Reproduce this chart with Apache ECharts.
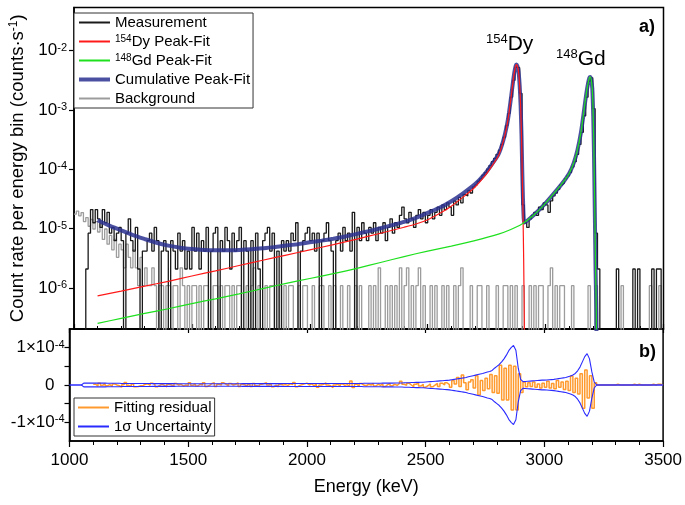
<!DOCTYPE html>
<html><head><meta charset="utf-8">
<script src="https://cdn.jsdelivr.net/npm/echarts@6/dist/echarts.min.js"></script>
<style>html,body{margin:0;padding:0;background:#fff}#c{width:685px;height:505px}</style>
</head><body><div id="c"></div>
<script>
// ---------- data ----------
const binStart = 1000, binWidth = 10;          // keV
const measQuantum = 2.1e-6;                     // counts·s^-1 for one count in a bin (measurement)
const bgQuantum = 1.1e-6;                       // counts·s^-1 for one count in a bin (background)
const zeroFloor = 1e-9;                         // empty bins drawn below the log axis
const xTicks = [1000, 1500, 2000, 2500, 3000, 3500];

// measurement, counts per 10 keV bin (1000 ... 3490 keV)
const measCounts = [
  0,0,0,0,0,1,4,10,6,10,
  7,5,10,6,9,4,5,3,4,5,
  3,0,4,7,3,2,5,1,0,2,
  2,3,4,2,5,3,0,2,3,2,
  0,3,2,1,4,2,3,1,2,1,
  5,2,4,1,3,2,5,0,2,4,
  5,0,3,2,5,3,1,4,2,3,
  5,0,3,2,0,3,0,4,1,0,
  3,4,5,2,4,0,2,0,3,2,
  3,2,4,3,6,0,2,3,4,5,
  3,4,2,4,0,3,4,6,3,2,
  0,3,4,2,5,3,4,2,9,0,
  5,3,6,4,3,5,4,6,3,5,
  4,6,3,5,7,4,6,5,8,11,
  7,6,9,7,5,8,10,7,9,6,
  8,10,7,9,11,8,12,10,13,11,
  8,14,12,16,13,18,17,21,19,24,
  26,30,33,38,42,48,55,64,73,85,
  100,125,165,260,420,780,1500,2500,2450,900,
  12,6,5,7,8,9,8,11,10,13,
  12,9,14,17,19,22,26,28,33,37,
  42,52,64,85,125,200,380,780,1450,1650,
  500,4,1,0,0,0,0,0,0,0,
  1,0,0,0,0,0,0,1,0,1,
  0,0,0,0,0,1,0,1,1,0
];
// background, counts per 10 keV bin (1000 ... 3490 keV)
const bgCounts = [
  16,18,15,17,12,14,10,13,9,12,
  8,11,6,9,5,7,4,6,3,5,
  4,2,5,3,2,4,2,1,3,1,
  2,1,1,2,1,0,1,1,0,1,
  1,0,1,1,0,2,1,0,1,0,
  1,1,0,1,0,1,1,0,0,1,
  1,0,1,0,1,1,0,1,0,1,
  1,0,0,1,0,1,2,0,1,0,
  0,1,0,1,1,0,0,1,0,1,
  0,1,1,0,0,1,0,1,1,0,
  0,1,0,0,1,1,0,0,1,0,
  1,0,0,1,0,0,1,0,0,1,
  0,1,0,0,0,1,0,1,0,2,
  0,0,1,0,1,0,1,0,2,0,
  1,2,0,1,0,1,2,0,1,0,
  0,1,0,1,0,0,1,0,1,0,
  0,1,0,1,2,0,0,0,1,0,
  0,1,1,0,0,1,0,0,0,1,
  0,0,1,1,0,1,0,1,0,0,
  1,0,0,1,0,1,0,1,1,0,
  0,1,2,0,1,0,1,1,0,0,
  0,1,0,0,0,0,0,0,1,0,
  0,1,0,0,0,0,0,0,0,0,
  0,0,1,0,0,0,0,0,0,0,
  0,0,0,0,1,0,0,0,1,0
];
// fitting residual, 1e-6 counts·s^-1 per bin (null = not fitted)
const residual = [
  null,null,null,null,null,null,null,null,null,null,
  2,-3,5,-1,4,-2,1,-4,3,0,
  -2,-6,1,7,-1,-3,3,-5,-4,-2,
  -1,2,3,-1,5,1,-5,-1,2,-1,
  -5,2,0,-3,4,0,2,-3,0,-2,
  6,-1,3,-3,2,0,6,-4,-1,4,
  6,-4,2,0,6,2,-2,4,0,2,
  6,-4,2,0,-4,2,-4,4,-2,-4,
  2,4,6,0,4,-5,0,-5,2,0,
  1,-1,3,1,7,-5,-1,1,3,5,
  0,3,-2,2,-6,0,2,6,0,-2,
  -7,0,2,-3,3,-1,1,-4,11,-7,
  2,-3,4,0,-2,2,0,4,-3,2,
  -1,3,-4,1,4,-2,2,-1,4,10,
  2,-1,5,0,-5,2,6,-3,2,-6,
  -2,3,-5,0,4,-4,5,0,6,1,
  -6,12,3,20,-4,27,6,-13,8,14,
  -8,25,-27,12,-15,18,-10,28,-20,25,
  -22,53,-40,45,-40,53,-67,50,-67,30,
  -20,8,-5,6,-4,8,-6,3,-8,5,
  -6,10,-8,4,-10,12,-6,8,-12,10,
  -15,24,-20,18,-24,30,-62,40,-35,25,
  -62,6,0,0,0,0,0,0,0,0,
  2,0,0,0,0,0,0,2,0,2,
  0,0,0,0,0,2,0,2,2,0
];
// 1 sigma uncertainty, 1e-6 counts·s^-1 per bin
const sigma = [
  0,0,0,0,0,0,5,5,5,5,
  5,5,5,5,5,5,4.5,4.5,4.5,4.5,
  4.5,4.5,4,4,4,4,4,4,4,4,
  4,4,4,4,4,3.8,3.8,3.8,3.8,3.8,
  3.6,3.6,3.6,3.6,3.6,3.5,3.5,3.5,3.5,3.5,
  3.5,3.5,3.5,3.5,3.5,3.5,3.5,3.5,3.5,3.5,
  3.5,3.5,3.5,3.5,3.5,3.5,3.5,3.5,3.5,3.5,
  3.5,3.5,3.5,3.6,3.6,3.6,3.6,3.6,3.6,3.6,
  3.7,3.7,3.7,3.7,3.7,3.8,3.8,3.8,3.8,3.8,
  3.9,3.9,3.9,3.9,3.9,4,4,4,4,4,
  4,4,4,4,4,4,4,4,4,4,
  4,4,4,4,4,4,4,4,4,4,
  4,4,4,4,4.5,4.5,4.5,4.5,4.5,4.5,
  4.5,4.5,5,5,5,5,5,5.5,5.5,5.5,
  5.5,6,6,6,6.5,6.5,7,7,7.5,7.5,
  8,8.5,9,9.5,10,10.5,11,11.5,12,12.5,
  13,14,15,16,17,18,19,20,22,23.5,
  25,26.5,28,29.5,31,33,35,36,39,45,
  50,55,62,70,80,92,100,106,93,45,
  15,9,9.5,10,10.5,11,11.5,12,12.5,13,
  13,13.5,14,14.5,15,16,17,18,19,20,
  22,24,27,31,38,48,62,76,84,70,
  35,8,0,0,0,0,0,0,0,0,
  0,0,0,0,0,0,0,0,0,0,
  0,0,0,0,0,0,0,0,0,0
];
// fitted curves [energy keV, counts·s^-1]
const dyFit = [
  [1100,7.4e-7],[1200,8.9e-7],[1300,1.08e-6],[1400,1.3e-6],[1500,1.6e-6],[1600,1.95e-6],
  [1700,2.4e-6],[1800,2.95e-6],[1900,3.6e-6],[2000,4.4e-6],[2100,5.4e-6],[2200,6.7e-6],
  [2300,8.4e-6],[2400,1.06e-5],[2450,1.2e-5],[2500,1.42e-5],[2550,1.8e-5],[2600,2.4e-5],
  [2650,3.4e-5],[2700,5.0e-5],[2740,7.5e-5],[2770,1.1e-4],[2800,1.7e-4],[2820,2.9e-4],
  [2835,5.2e-4],[2845,9.0e-4],[2855,1.8e-3],[2862,3.0e-3],[2868,4.4e-3],[2873,5.5e-3],
  [2876,5.8e-3],[2880,5.5e-3],[2885,4.5e-3],[2890,2.6e-3],[2894,1.2e-3],[2898,3.5e-4],
  [2901,8e-5],[2904,2e-5],[2907,3e-6],[2910,2e-7],[2912,1e-9]
];
const gdFit = [
  [1100,2.55e-7],[1200,3.1e-7],[1300,3.75e-7],[1400,4.5e-7],[1500,5.5e-7],[1600,6.6e-7],
  [1700,8.0e-7],[1800,9.8e-7],[1900,1.2e-6],[2000,1.45e-6],[2100,1.75e-6],[2200,2.15e-6],
  [2300,2.7e-6],[2400,3.4e-6],[2500,4.2e-6],[2600,5.1e-6],[2700,6.3e-6],[2800,8.1e-6],
  [2850,9.6e-6],[2900,1.2e-5],[2950,1.7e-5],[3000,2.7e-5],[3050,4.6e-5],[3080,6.5e-5],
  [3100,8.5e-5],[3120,1.3e-4],[3135,2.1e-4],[3150,4.2e-4],[3163,9.8e-4],[3172,1.8e-3],
  [3180,2.8e-3],[3186,3.5e-3],[3189,3.6e-3],[3193,3.3e-3],[3198,2.3e-3],[3202,8e-4],
  [3205,2.1e-4],[3209,1.6e-5],[3212,2e-6],[3215,4e-7],[3219,1e-9]
];
const cumFit = [
  [1100,1.39e-5],[1150,1.13e-5],[1200,9.4e-6],[1250,7.8e-6],[1300,6.7e-6],[1350,5.8e-6],
  [1400,5.2e-6],[1450,4.8e-6],[1500,4.55e-6],[1550,4.4e-6],[1600,4.35e-6],[1650,4.35e-6],
  [1700,4.4e-6],[1750,4.5e-6],[1800,4.7e-6],[1850,4.9e-6],[1900,5.2e-6],[1950,5.5e-6],
  [2000,5.9e-6],[2050,6.3e-6],[2100,6.8e-6],[2150,7.4e-6],[2200,8.2e-6],[2250,9.1e-6],
  [2300,1.02e-5],[2350,1.15e-5],[2400,1.3e-5],[2450,1.52e-5],[2500,1.85e-5],[2550,2.25e-5],
  [2600,2.9e-5],[2650,3.95e-5],[2700,5.6e-5],[2740,8.2e-5],[2770,1.18e-4],[2800,1.78e-4],
  [2820,3.0e-4],[2835,5.3e-4],[2845,9.1e-4],[2855,1.81e-3],[2862,3.0e-3],[2868,4.4e-3],
  [2873,5.5e-3],[2876,5.8e-3],[2880,5.5e-3],[2885,4.5e-3],[2890,2.6e-3],[2894,1.2e-3],
  [2898,3.6e-4],[2901,9.2e-5],[2904,3.2e-5],[2907,1.55e-5],[2910,1.27e-5],[2950,1.7e-5],
  [3000,2.7e-5],[3050,4.6e-5],[3080,6.5e-5],[3100,8.5e-5],[3120,1.3e-4],[3135,2.1e-4],
  [3150,4.2e-4],[3163,9.8e-4],[3172,1.8e-3],[3180,2.8e-3],[3186,3.5e-3],[3189,3.6e-3],
  [3193,3.3e-3],[3198,2.3e-3],[3202,8e-4],[3205,2.1e-4],[3209,1.6e-5],[3212,2e-6],
  [3215,4e-7],[3219,1e-9]
];

// ---------- helpers ----------
const FONT = 'Liberation Sans, Arial, sans-serif';
function histogram(vals, scale, emptyValue) {
  const pts = vals.map((v, i) => {
    const e = binStart + i * binWidth;
    if (v === null) return [e, '-'];
    const r = v * scale;
    return [e, (emptyValue !== undefined && r <= 0) ? emptyValue : r];
  });
  const last = pts[pts.length - 1];
  pts.push([binStart + vals.length * binWidth, last[1]]);
  return pts;
}
const measData = histogram(measCounts, measQuantum, zeroFloor);
const bgData = histogram(bgCounts, bgQuantum, zeroFloor);
const residData = histogram(residual, 1e-6);
const sigUp = histogram(sigma, 1e-6);
const sigDown = histogram(sigma, -1e-6);

const supRich = {
  b: {fontSize: 17, fontFamily: FONT, color: '#000'},
  s: {fontSize: 11, fontFamily: FONT, color: '#000', verticalAlign: 'top', lineHeight: 17},
  z: {fontSize: 17, fontFamily: FONT, color: '#000', padding: [0, 10, 0, 0]}
};
const legRich = {
  n: {fontSize: 15, fontFamily: FONT, color: '#000'},
  s: {fontSize: 10, fontFamily: FONT, color: '#000', verticalAlign: 'top', lineHeight: 15}
};
function legFmt(name) {
  const m = name.match(/^(\d+)(.*)$/);
  if (m && (name.indexOf('Dy') >= 0 || name.indexOf('Gd') >= 0)) return '{s|' + m[1] + '}{n|' + m[2] + '}';
  return '{n|' + name + '}';
}

const chart = echarts.init(document.getElementById('c'), null, {renderer: 'canvas'});
const axisLine = {show: true, onZero: false, lineStyle: {color: '#000', width: 1.5}};
const legendCommon = {
  orient: 'vertical', itemWidth: 31, itemHeight: 12, itemGap: 4,
  formatter: legFmt, textStyle: {fontSize: 15, color: '#000', fontFamily: FONT, rich: legRich},
  borderColor: '#333', borderWidth: 1, padding: [2, 3, 2, 3], backgroundColor: '#fff',
  selectedMode: false, itemStyle: {opacity: 0}
};

chart.setOption({
  animation: false,
  backgroundColor: '#fff',
  textStyle: {fontFamily: FONT},
  grid: [
    {left: 69.5, right: 21.5, top: 7.5, height: 321.5, show: true, borderColor: '#000', borderWidth: 1.5},
    {left: 69.5, right: 21.5, top: 329, height: 112, show: true, borderColor: '#000', borderWidth: 1.5}
  ],
  xAxis: [
    {gridIndex: 0, type: 'value', min: xTicks[0], max: xTicks[xTicks.length - 1], interval: 500,
     axisLine: axisLine, axisLabel: {show: false},
     axisTick: {show: true, inside: true, length: 5, lineStyle: {color: '#000', width: 1.2}},
     minorTick: {show: true, splitNumber: 5, length: 3, lineStyle: {color: '#000', width: 1}},
     splitLine: {show: false}},
    {gridIndex: 1, type: 'value', min: xTicks[0], max: xTicks[xTicks.length - 1], interval: 500,
     position: 'bottom', axisLine: axisLine,
     axisLabel: {show: true, fontSize: 17, color: '#000', margin: 11, fontFamily: FONT,
       formatter: v => String(v)},
     axisTick: {show: true, inside: false, length: 6, lineStyle: {color: '#000', width: 1.2}},
     minorTick: {show: true, splitNumber: 5, length: 4, lineStyle: {color: '#000', width: 1}},
     splitLine: {show: false},
     name: 'Energy (keV)', nameLocation: 'middle', nameGap: 37,
     nameTextStyle: {fontSize: 18, color: '#000', fontFamily: FONT}},
    {gridIndex: 1, type: 'value', min: xTicks[0], max: xTicks[xTicks.length - 1], interval: 500,
     position: 'top', axisLine: axisLine, axisLabel: {show: false},
     axisTick: {show: true, inside: true, length: 4, lineStyle: {color: '#000', width: 1.2}},
     splitLine: {show: false}}
  ],
  yAxis: [
    {gridIndex: 0, type: 'log', logBase: 10, min: 2.05e-7, max: 5.3e-2,
     axisLine: axisLine,
     axisTick: {show: true, inside: false, length: 5, lineStyle: {color: '#000', width: 1.2}},
     splitLine: {show: false},
     axisLabel: {show: true, margin: 7, rich: supRich, showMinLabel: false, showMaxLabel: false,
       formatter: v => {
         const e = Math.round(Math.log10(v));
         if (Math.abs(Math.log10(v) - e) > 1e-6) return '';
         return '{b|10}{s|' + e + '}';
       }},
     name: 'Count rate per energy bin (counts·s{s|-1})', nameLocation: 'middle', nameGap: 47,
     nameTextStyle: {fontSize: 18.5, color: '#000', fontFamily: FONT,
       rich: {s: {fontSize: 12, fontFamily: FONT, color: '#000', verticalAlign: 'top', lineHeight: 18}}}},
    {gridIndex: 1, type: 'value', min: -1.5e-4, max: 1.5e-4, interval: 5e-5,
     axisLine: axisLine,
     axisTick: {show: true, inside: false, length: 5, lineStyle: {color: '#000', width: 1.2}},
     splitLine: {show: false},
     axisLabel: {show: true, margin: 5, rich: supRich, showMinLabel: false, showMaxLabel: false,
       formatter: v => {
         if (Math.abs(v) < 1e-12) return '{z|0}';
         if (Math.abs(v - 1e-4) < 1e-10) return '{b|1×10}{s|-4}';
         if (Math.abs(v + 1e-4) < 1e-10) return '{b|-1×10}{s|-4}';
         return '';
       }}}
  ],
  legend: [
    Object.assign({left: 74, top: 13,
      data: ['Measurement', '154Dy Peak-Fit', '148Gd Peak-Fit',
             {name: 'Cumulative Peak-Fit', lineStyle: {width: 4}}, 'Background']}, legendCommon),
    Object.assign({left: 74, top: 398,
      data: ['Fitting residual', '1σ Uncertainty']}, legendCommon)
  ],
  graphic: [
    {type: 'text', left: 486, top: 33, z: 100,
     style: {text: '{s|154}{b|Dy}', rich: {
       s: {fontSize: 13, fontFamily: FONT, fill: '#000', verticalAlign: 'top', lineHeight: 22},
       b: {fontSize: 21, fontFamily: FONT, fill: '#000', lineHeight: 22}}}},
    {type: 'text', left: 556, top: 48, z: 100,
     style: {text: '{s|148}{b|Gd}', rich: {
       s: {fontSize: 13, fontFamily: FONT, fill: '#000', verticalAlign: 'top', lineHeight: 22},
       b: {fontSize: 21, fontFamily: FONT, fill: '#000', lineHeight: 22}}}},
    {type: 'text', left: 639, top: 18, z: 100,
     style: {text: 'a)', font: 'bold 18px ' + FONT, fill: '#000'}},
    {type: 'text', left: 639, top: 343, z: 100,
     style: {text: 'b)', font: 'bold 18px ' + FONT, fill: '#000'}}
  ],
  series: [
    {name: 'Background', type: 'line', xAxisIndex: 0, yAxisIndex: 0, data: bgData, step: 'end',
     showSymbol: false, symbol: 'none', clip: true, z: 1,
     lineStyle: {color: '#9c9c9c', width: 1.3}, itemStyle: {color: '#9c9c9c'}},
    {name: 'Measurement', type: 'line', xAxisIndex: 0, yAxisIndex: 0, data: measData, step: 'end',
     showSymbol: false, symbol: 'none', clip: true, z: 2,
     lineStyle: {color: '#1a1a1a', width: 1.3}, itemStyle: {color: '#1a1a1a'}},
    {name: 'Cumulative Peak-Fit', type: 'line', xAxisIndex: 0, yAxisIndex: 0, data: cumFit,
     showSymbol: false, symbol: 'none', clip: true, z: 3, smooth: 0.2,
     lineStyle: {color: '#2b318f', width: 4, opacity: 0.85}, itemStyle: {color: '#2b318f'}},
    {name: '154Dy Peak-Fit', type: 'line', xAxisIndex: 0, yAxisIndex: 0, data: dyFit,
     showSymbol: false, symbol: 'none', clip: true, z: 4, smooth: 0.2,
     lineStyle: {color: '#ff1a1a', width: 1.2}, itemStyle: {color: '#ff1a1a'}},
    {name: '148Gd Peak-Fit', type: 'line', xAxisIndex: 0, yAxisIndex: 0, data: gdFit,
     showSymbol: false, symbol: 'none', clip: true, z: 5, smooth: 0.2,
     lineStyle: {color: '#1ee01e', width: 1.2}, itemStyle: {color: '#1ee01e'}},
    {name: 'Fitting residual', type: 'line', xAxisIndex: 1, yAxisIndex: 1, data: residData, step: 'end',
     showSymbol: false, symbol: 'none', clip: true, z: 2,
     lineStyle: {color: '#ff9a2e', width: 1.5}, itemStyle: {color: '#ff9a2e'}},
    {name: '1σ Uncertainty', type: 'line', xAxisIndex: 1, yAxisIndex: 1, data: sigUp,
     showSymbol: false, symbol: 'none', clip: true, z: 3,
     lineStyle: {color: '#2a2aff', width: 1.1}, itemStyle: {color: '#2a2aff'}},
    {name: '1σ Uncertainty', type: 'line', xAxisIndex: 1, yAxisIndex: 1, data: sigDown,
     showSymbol: false, symbol: 'none', clip: true, z: 3,
     lineStyle: {color: '#2a2aff', width: 1.1}, itemStyle: {color: '#2a2aff'}}
  ]
});
</script></body></html>
